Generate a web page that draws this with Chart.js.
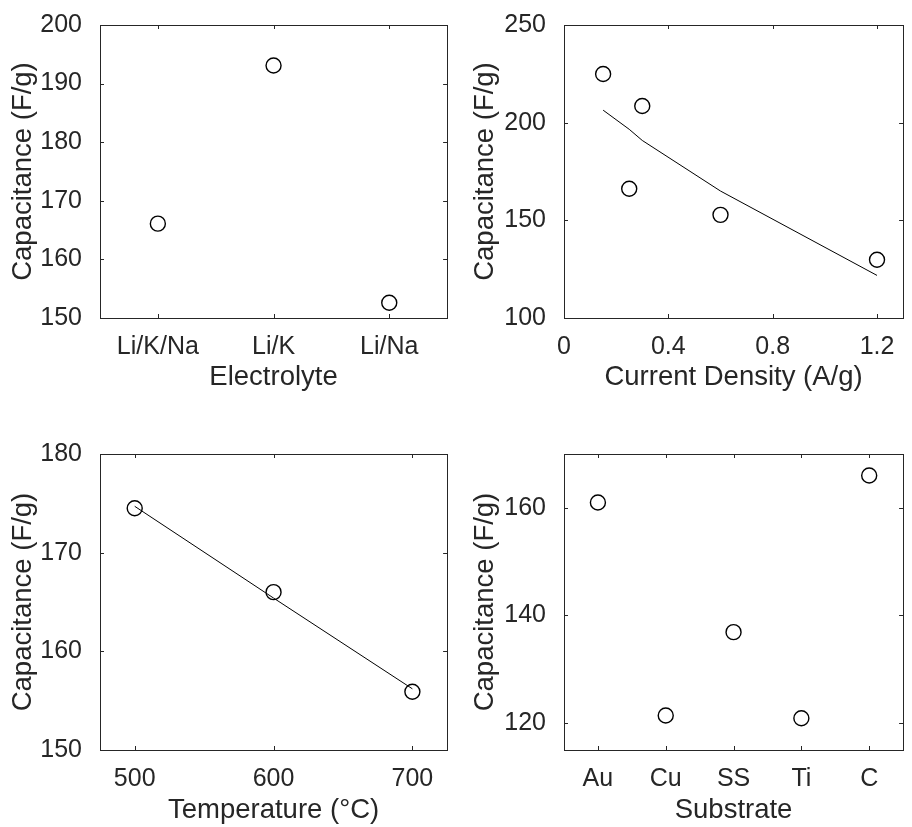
<!DOCTYPE html>
<html>
<head>
<meta charset="utf-8">
<script src="https://cdn.jsdelivr.net/npm/chart.js@4.4.1/dist/chart.umd.min.js"></script>
<style>
  html, body { margin: 0; padding: 0; background: #fff; }
  #wrap { position: relative; width: 912px; height: 827px; }
  canvas { position: absolute; }
</style>
</head>
<body>
<div id="wrap">
  <canvas id="electrolyteChart" width="456" height="400" style="left:0;top:0"></canvas>
  <canvas id="currentChart" width="456" height="400" style="left:456px;top:0"></canvas>
  <canvas id="tempChart" width="456" height="427" style="left:0;top:400px"></canvas>
  <canvas id="substrateChart" width="456" height="427" style="left:456px;top:400px"></canvas>
</div>
<script>
// electrolyte composition
const electrolytes = ['Li/K/Na', 'Li/K', 'Li/Na'];
const electrolyteCap = [166.1, 193.1, 152.6];

// current density sweep
const currentDensity = [0.15, 0.3, 0.25, 0.6, 1.2];
const currentCap = [224.9, 208.5, 166.2, 152.8, 129.8];
const currentFitX = [0.15, 0.25, 0.3, 0.6, 1.2];
const currentFitY = [206.4, 196.6, 190.9, 165.0, 121.8];
const currentTicks = [0, 0.4, 0.8, 1.2];

// synthesis temperature
const temperature = [500, 600, 700];
const tempCap = [174.5, 166.0, 155.9];
const tempFit = [174.7, 165.4, 156.2];
const tempTicks = [500, 600, 700];

// substrate material
const substrates = ['Au', 'Cu', 'SS', 'Ti', 'C'];
const substrateCap = [161.0, 121.4, 136.9, 120.9, 166.0];
const substrateTicks = [120, 140, 160];

const INK = '#262626';
const FONT = 'Liberation Sans, Arial, Helvetica, sans-serif';

// matlab style box with ticks pointing inward on all four sides
const boxTicks = {
  id: 'boxTicks',
  afterDraw(chart) {
    const { ctx, chartArea: a } = chart;
    const len = 4;
    ctx.save();
    ctx.strokeStyle = INK;
    ctx.lineWidth = 1;
    ctx.beginPath();
    const xs = chart.scales.x;
    xs.ticks.forEach((t, i) => {
      const px = Math.round(xs.getPixelForTick(i)) + 0.5;
      ctx.moveTo(px, a.bottom); ctx.lineTo(px, a.bottom - len);
      ctx.moveTo(px, a.top); ctx.lineTo(px, a.top + len);
    });
    const ys = chart.scales.y;
    ys.ticks.forEach((t, i) => {
      const py = Math.round(ys.getPixelForTick(i)) + 0.5;
      ctx.moveTo(a.left, py); ctx.lineTo(a.left + len, py);
      ctx.moveTo(a.right, py); ctx.lineTo(a.right - len, py);
    });
    ctx.stroke();
    ctx.strokeRect(Math.round(a.left) + 0.5, Math.round(a.top) + 0.5,
      Math.round(a.right - a.left), Math.round(a.bottom - a.top));
    ctx.restore();
  }
};

const pointSet = (data) => ({
  data,
  showLine: false,
  pointRadius: 7.5,
  pointHoverRadius: 7.5,
  pointBorderWidth: 1.4,
  pointBorderColor: '#000',
  pointBackgroundColor: 'rgba(0,0,0,0)',
});

const lineSet = (data) => ({
  data,
  showLine: true,
  borderColor: '#000',
  borderWidth: 1,
  pointRadius: 0,
  tension: 0,
});

const xy = (xs, ys) => xs.map((x, i) => ({ x, y: ys[i] }));

function axisX(opts, title, titlePad, height) {
  return Object.assign({
    grid: { display: false },
    border: { display: false },
    ticks: { color: INK, font: { family: FONT, size: 25 }, padding: 6, maxRotation: 0, autoSkip: false },
    title: { display: true, text: title, color: INK, font: { family: FONT, size: 27.5 }, padding: { top: 0, bottom: titlePad } },
    afterFit(s) { s.height = height; },
  }, opts);
}

function axisY(opts, titlePad, width) {
  return Object.assign({
    grid: { display: false },
    border: { display: false },
    ticks: { color: INK, font: { family: FONT, size: 25 }, padding: 10 },
    title: { display: true, text: 'Capacitance (F/g)', color: INK, font: { family: FONT, size: 27.5 }, padding: { top: titlePad, bottom: 0 } },
    afterFit(s) { s.width = width; },
  }, opts);
}

function makeChart(id, labels, datasets, scales, padding) {
  return new Chart(document.getElementById(id), {
    type: 'line',
    data: { labels, datasets },
    options: {
      responsive: false,
      animation: false,
      layout: { padding },
      plugins: { legend: { display: false }, tooltip: { enabled: false } },
      scales,
    },
    plugins: [boxTicks],
  });
}

const setTicks = (list) => (s) => { s.ticks = list.map(v => ({ value: v })); };

makeChart('electrolyteChart', electrolytes, [pointSet(electrolyteCap)], {
  x: axisX({ type: 'category', offset: true }, 'Electrolyte', 6, 82),
  y: axisY({ type: 'linear', min: 150, max: 200, ticks: { color: INK, font: { family: FONT, size: 25 }, padding: 10, stepSize: 10 } }, 6.5, 100),
}, { left: 0, right: 8, top: 24, bottom: 0 });

makeChart('currentChart', undefined, [lineSet(xy(currentFitX, currentFitY)), pointSet(xy(currentDensity, currentCap))], {
  x: axisX({ type: 'linear', min: 0, max: 1.3, afterBuildTicks: setTicks(currentTicks) }, 'Current Density (A/g)', 6, 82),
  y: axisY({ type: 'linear', min: 100, max: 250, ticks: { color: INK, font: { family: FONT, size: 25 }, padding: 10, stepSize: 50 } }, 12.5, 108),
}, { left: 0, right: 1, top: 24, bottom: 0 });

makeChart('tempChart', undefined, [lineSet(xy(temperature, tempFit)), pointSet(xy(temperature, tempCap))], {
  x: axisX({ type: 'linear', min: 475, max: 725, afterBuildTicks: setTicks(tempTicks) }, 'Temperature (\u00B0C)', 0, 77),
  y: axisY({ type: 'linear', min: 150, max: 180, ticks: { color: INK, font: { family: FONT, size: 25 }, padding: 10, stepSize: 10 } }, 6.5, 100),
}, { left: 0, right: 8, top: 54, bottom: 0 });

makeChart('substrateChart', substrates, [pointSet(substrateCap)], {
  x: axisX({ type: 'category', offset: true }, 'Substrate', 0, 77),
  y: axisY({ type: 'linear', min: 115, max: 170, afterBuildTicks: setTicks(substrateTicks) }, 12.5, 108),
}, { left: 0, right: 1, top: 54, bottom: 0 });
</script>
</body>
</html>
